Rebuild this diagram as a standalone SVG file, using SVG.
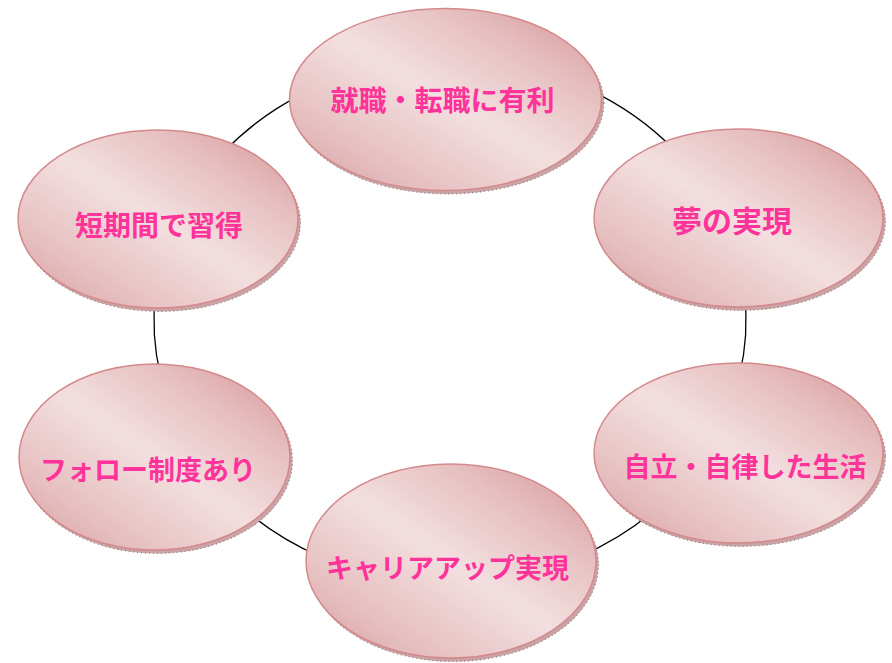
<svg xmlns="http://www.w3.org/2000/svg" width="892" height="663" viewBox="0 0 892 663">
<defs>
<linearGradient id="g" x1="0" y1="1" x2="1" y2="0">
<stop offset="0" stop-color="#d69c9e"/>
<stop offset="0.22" stop-color="#e6bfc0"/>
<stop offset="0.5" stop-color="#f3dfe0"/>
<stop offset="0.75" stop-color="#e6bfc0"/>
<stop offset="1" stop-color="#d59294"/>
</linearGradient>
</defs>
<style>
.conn{fill:none;stroke:#000;stroke-width:1.3}
.sh{fill:#c9a3a5;stroke:#7d5f61;stroke-width:1;stroke-dasharray:1 3}
.el{fill:url(#g);stroke:#d4898c;stroke-width:1.5}
.t{font-family:"Noto Sans CJK JP","Noto Sans",sans-serif;font-weight:bold;font-size:28px;fill:#ff3399;text-anchor:middle;dominant-baseline:central}
.s{font-size:27px}
</style>
<rect width="892" height="663" fill="#fff"/>
<g id="connectors">
<path class="conn" d="M223.3 152.6 A296 262 0 0 1 302 94.1"/>
<path class="conn" d="M589 89.7 A296 262 0 0 1 673.4 149.1"/>
<path class="conn" d="M744.4 293.6 A296 262 0 0 1 739.5 375.5"/>
<path class="conn" d="M651.9 512.6 A296 262 0 0 1 579.8 556.5"/>
<path class="conn" d="M320.2 556.5 A296 262 0 0 1 248.1 512.6"/>
<path class="conn" d="M160.5 375.5 A296 262 0 0 1 155.6 293.6"/>
</g>
<g id="node1">
<ellipse class="sh" cx="448" cy="103" rx="156" ry="91"/>
<ellipse class="el" cx="445.5" cy="99.5" rx="156" ry="91"/>
<text class="t" x="442.5" y="99">就職・転職に有利</text>
</g>
<g id="node2">
<ellipse class="sh" cx="741" cy="221.5" rx="144.5" ry="89"/>
<ellipse class="el" cx="738.5" cy="218" rx="144.5" ry="89"/>
<text class="t" x="732" y="218.5" style="font-size:30px">夢の実現</text>
</g>
<g id="node3">
<ellipse class="sh" cx="741" cy="456.5" rx="144.5" ry="90"/>
<ellipse class="el" cx="738.5" cy="453" rx="144.5" ry="90"/>
<text class="t s" x="745" y="465">自立・自律した生活</text>
</g>
<g id="node4">
<ellipse class="sh" cx="453.5" cy="564.5" rx="145" ry="97"/>
<ellipse class="el" cx="451" cy="561" rx="145" ry="97"/>
<text class="t s" x="447.5" y="566.5">キャリアアップ実現</text>
</g>
<g id="node5">
<ellipse class="sh" cx="157" cy="460.5" rx="135.5" ry="93"/>
<ellipse class="el" cx="154.5" cy="457" rx="135.5" ry="93"/>
<text class="t s" x="148" y="468.5">フォロー制度あり</text>
</g>
<g id="node6">
<ellipse class="sh" cx="160.5" cy="222.5" rx="140" ry="89"/>
<ellipse class="el" cx="158" cy="219" rx="140" ry="89"/>
<text class="t" x="159" y="223.5">短期間で習得</text>
</g>
</svg>
